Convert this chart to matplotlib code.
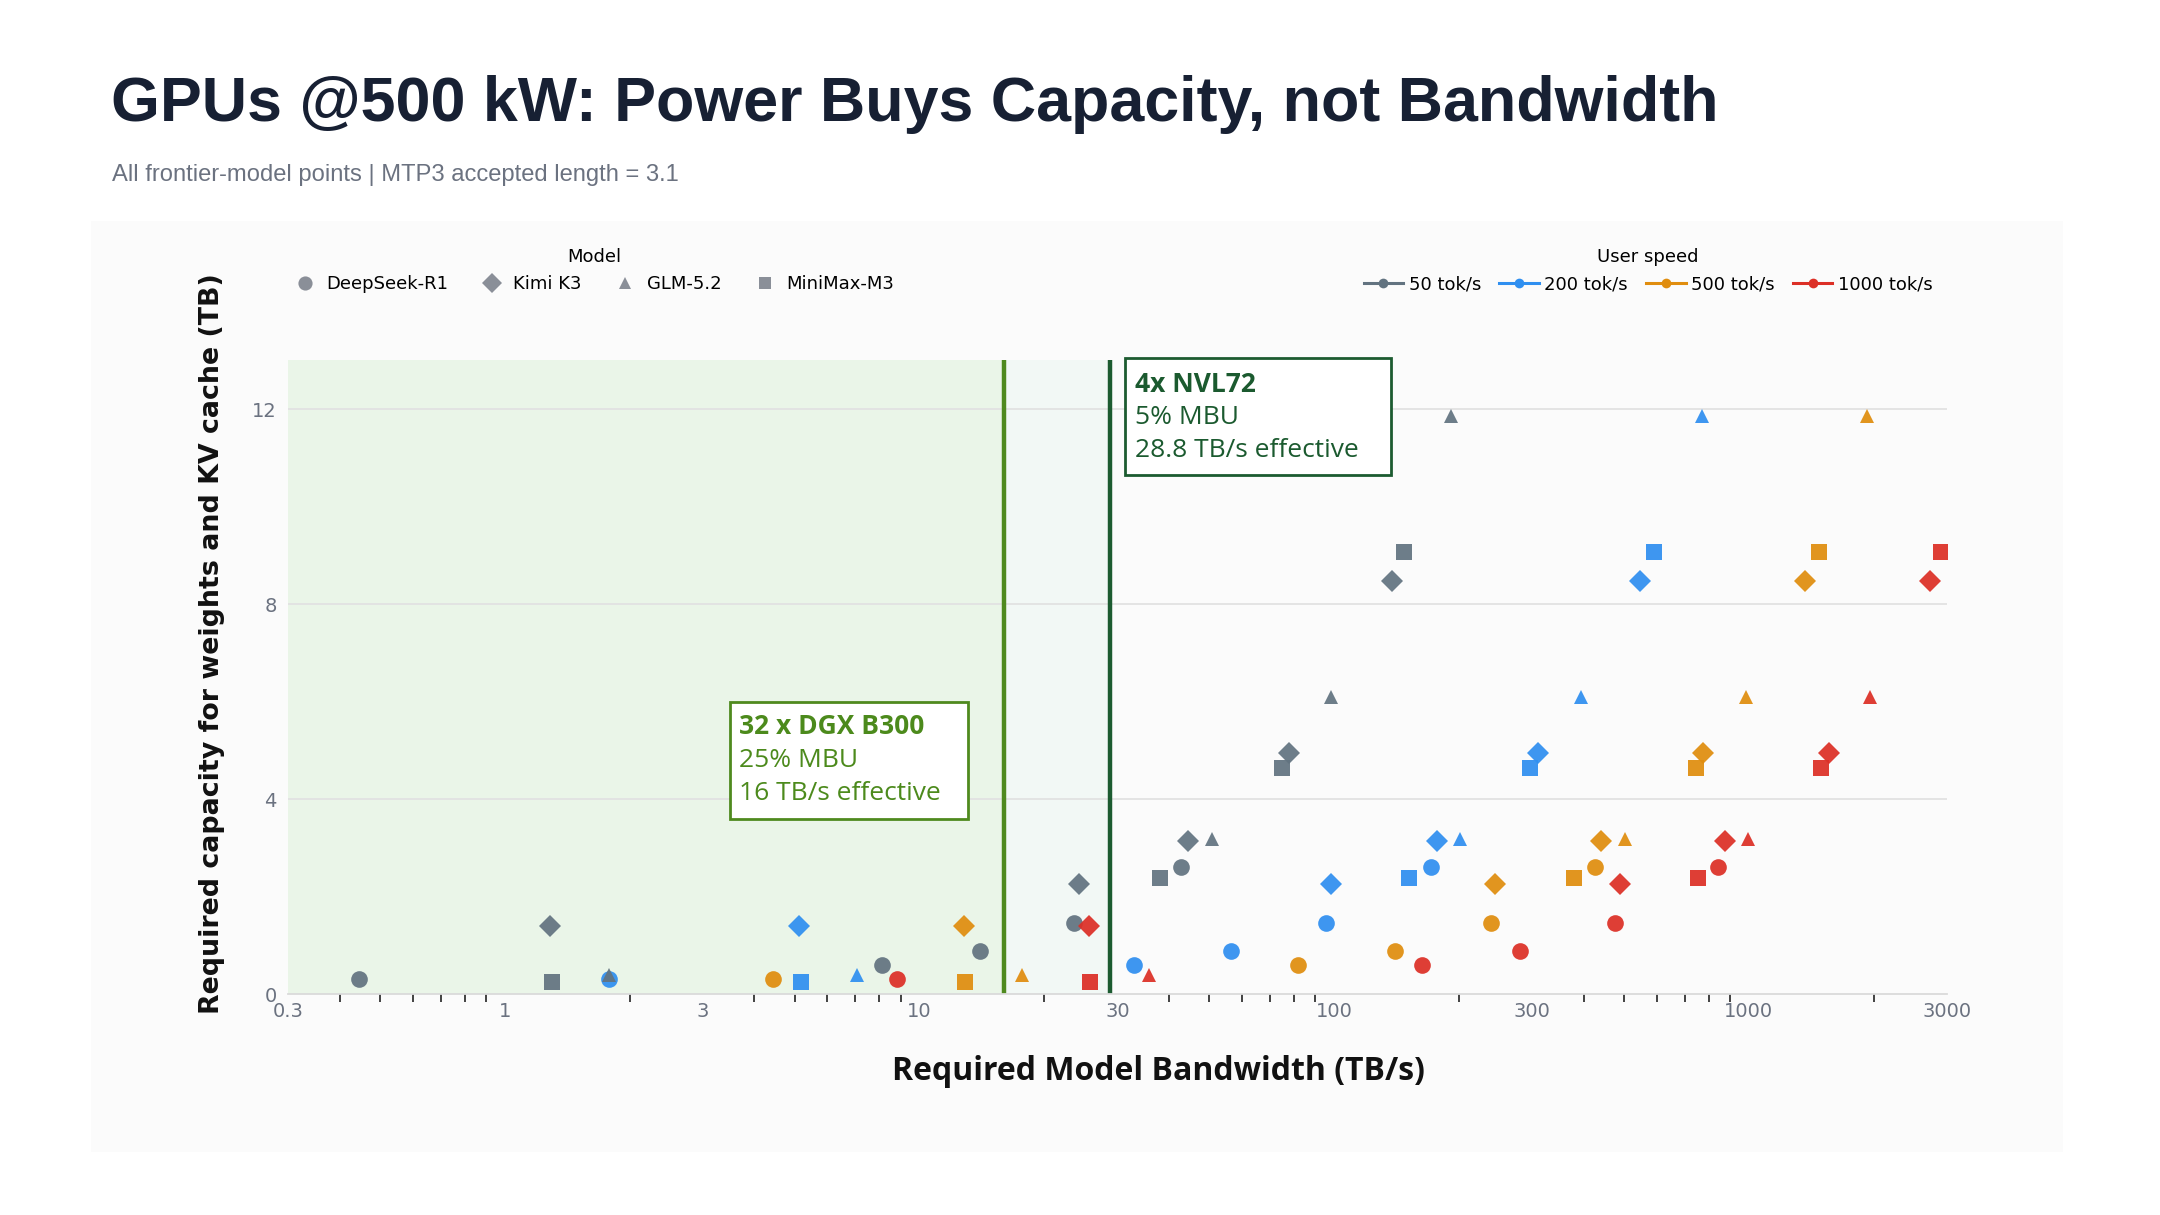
import matplotlib
matplotlib.use("Agg")
import matplotlib.pyplot as plt
from matplotlib.lines import Line2D
from matplotlib.patches import Rectangle

# ---- data ----
speeds = ["50 tok/s", "200 tok/s", "500 tok/s", "1000 tok/s"]
speed_colors = ["#627380", "#2f8ff0", "#e08d0e", "#dc2f26"]

models = ["DeepSeek-R1", "Kimi K3", "GLM-5.2", "MiniMax-M3"]
model_markers = ["o", "D", "^", "s"]

# capacity (TB) per model
ds_cap = [0.31, 0.60, 0.89, 1.47, 2.61]
kimi_cap = [1.40, 2.27, 3.14, 4.94, 8.47]
glm_cap = [0.40, 3.18, 6.10, 11.86]
mm_cap = [0.26, 2.39, 4.63, 9.06]

# required bandwidth (TB/s), one list per user speed
ds_bw_50 = [0.445, 8.1, 14.0, 23.6, 42.8]
ds_bw_200 = [1.78, 32.9, 56.5, 95.6, 170.7]
ds_bw_500 = [4.43, 81.6, 140.4, 239, 424.5]
ds_bw_1000 = [8.84, 162.4, 280, 476, 844]

kimi_bw_50 = [1.285, 24.2, 44.5, 77.7, 138]
kimi_bw_200 = [5.13, 98.0, 176.6, 310, 545]
kimi_bw_500 = [12.8, 244.5, 440.6, 775, 1364]
kimi_bw_1000 = [25.6, 488, 873.6, 1556, 2737]

glm_bw_50 = [1.78, 50.7, 98.4, 191]
glm_bw_200 = [7.05, 200.5, 393, 769]
glm_bw_500 = [17.65, 501.7, 983, 1926]
glm_bw_1000 = [35.7, 995, 1954]

mm_bw_50 = [1.30, 38.1, 74.8, 147]
mm_bw_200 = [5.18, 151.7, 296, 589]
mm_bw_500 = [12.9, 378.4, 746, 1472]
mm_bw_1000 = [25.8, 753, 1496, 2911]

caps = [ds_cap, kimi_cap, glm_cap, mm_cap]
bws = [
    [ds_bw_50, ds_bw_200, ds_bw_500, ds_bw_1000],
    [kimi_bw_50, kimi_bw_200, kimi_bw_500, kimi_bw_1000],
    [glm_bw_50, glm_bw_200, glm_bw_500, glm_bw_1000],
    [mm_bw_50, mm_bw_200, mm_bw_500, mm_bw_1000],
]

b300_bw = 16.0
nvl_bw = 28.8

# ---- figure ----
fig = plt.figure(figsize=(21.6, 12.15), dpi=100)
fig.patch.set_facecolor("white")
fig.patches.append(Rectangle((0.042, 0.052), 0.913, 0.766, transform=fig.transFigure,
                             facecolor="#fbfbfb", edgecolor="none", zorder=-5))

ax = fig.add_axes([0.1333, 0.1817, 0.7680, 0.5218])
ax.set_facecolor("none")
ax.set_xscale("log")
ax.set_xlim(0.3, 3000)
ax.set_ylim(0, 13)

# shaded bands + hardware lines
ax.axvspan(0.3, b300_bw, color="#eaf5e8", zorder=0, lw=0)
ax.axvspan(b300_bw, nvl_bw, color="#f2f8f5", zorder=0, lw=0)
for y in [4, 8, 12]:
    ax.axhline(y, color="#e2e2e2", lw=1.3, zorder=0.5)
ax.axvline(b300_bw, color="#4f8a1e", lw=3.2, zorder=1)
ax.axvline(nvl_bw, color="#1c5b30", lw=3.2, zorder=1)

# points, model by model
sizes = {"o": 12, "D": 11.5, "^": 10, "s": 11}
for m, mk in enumerate(model_markers):
    for s, col in enumerate(speed_colors):
        xs = bws[m][s]
        ys = caps[m][:len(xs)]
        ax.plot(xs, ys, linestyle="none", marker=mk, ms=sizes[mk], color=col,
                mec=col, mew=0, alpha=0.93, zorder=3)

# axes styling
for sp in ["top", "right", "left"]:
    ax.spines[sp].set_visible(False)
ax.spines["bottom"].set_color("#dadada")
ax.spines["bottom"].set_linewidth(1.3)

major = [0.3, 1, 3, 10, 30, 100, 300, 1000, 3000]
ax.set_xticks(major)
ax.set_xticklabels(["0.3", "1", "3", "10", "30", "100", "300", "1000", "3000"])
minor = []
for dec in [0.1, 1, 10, 100, 1000]:
    for k in [2, 4, 5, 6, 7, 8, 9]:
        v = k * dec
        if 0.3 < v < 3000:
            minor.append(v)
ax.set_xticks(minor, minor=True)
ax.set_xticklabels([], minor=True)
ax.tick_params(axis="x", which="major", length=0, pad=5.5, labelsize=14, labelcolor="#6b7280")
ax.tick_params(axis="x", which="minor", length=6, width=1.3, color="#333333", direction="out")
ax.set_yticks([0, 4, 8, 12])
ax.tick_params(axis="y", length=0, pad=8, labelsize=14, labelcolor="#6b7280")

# annotation boxes
ax.add_patch(Rectangle((3.49, 3.59), 13.1 - 3.49, 5.99 - 3.59, facecolor="white",
                       edgecolor="#4f8a1e", lw=2, zorder=4))
ax.text(3.68, 5.48, "32 x DGX B300", color="#4c8a1c", fontsize=19, fontweight="bold",
        family="Open Sans", va="center", zorder=5)
ax.text(3.68, 4.80, "25% MBU", color="#4c8a1c", fontsize=19, family="Open Sans",
        va="center", zorder=5)
ax.text(3.68, 4.12, "16 TB/s effective", color="#4c8a1c", fontsize=19, family="Open Sans",
        va="center", zorder=5)

ax.add_patch(Rectangle((31.3, 10.64), 136.8 - 31.3, 13.04 - 10.64, facecolor="white",
                       edgecolor="#1c5b30", lw=2, zorder=4, clip_on=False))
ax.text(33.0, 12.51, "4x NVL72", color="#1b5a2f", fontsize=19, fontweight="bold",
        family="Open Sans", va="center", zorder=5)
ax.text(33.0, 11.83, "5% MBU", color="#1b5a2f", fontsize=19, family="Open Sans",
        va="center", zorder=5)
ax.text(33.0, 11.15, "28.8 TB/s effective", color="#1b5a2f", fontsize=19, family="Open Sans",
        va="center", zorder=5)

# legends
model_handles = [Line2D([], [], linestyle="none", marker=mk, ms=sizes[mk] * 0.85,
                        color="#8a8f98", mew=0) for mk in model_markers]
leg1 = fig.legend(model_handles, models, title="Model", loc="upper center",
                  bbox_to_anchor=(0.275, 0.809), ncol=4, frameon=False, fontsize=13,
                  title_fontsize=13, handletextpad=0.6, columnspacing=1.8, handlelength=1.2)
speed_handles = [Line2D([], [], color=c, lw=2.2, marker="o", ms=7, mew=0)
                 for c in speed_colors]
leg2 = fig.legend(speed_handles, speeds, title="User speed", loc="upper center",
                  bbox_to_anchor=(0.763, 0.809), ncol=4, frameon=False, fontsize=13,
                  title_fontsize=13, handletextpad=0.3, columnspacing=1.0, handlelength=2.2)

# titles and axis labels
fig.text(0.0513, 0.914, "GPUs @500 kW: Power Buys Capacity, not Bandwidth",
         fontsize=45.2, fontweight="bold", family="Liberation Sans", color="#172033", va="center")
fig.text(0.052, 0.856, "All frontier-model points | MTP3 accepted length = 3.1",
         fontsize=17.1, family="Liberation Sans", color="#6b7280", va="center")
fig.text(0.098, 0.47, "Required capacity for weights and KV cache (TB)", rotation=90,
         fontsize=19.4, fontweight="bold", family="DejaVu Sans", color="#111111",
         ha="center", va="center")
fig.text(0.5365, 0.118, "Required Model Bandwidth (TB/s)", fontsize=23, fontweight="bold",
         family="Open Sans", color="#111111", ha="center", va="center")

fig.savefig("out.png", dpi=100)
